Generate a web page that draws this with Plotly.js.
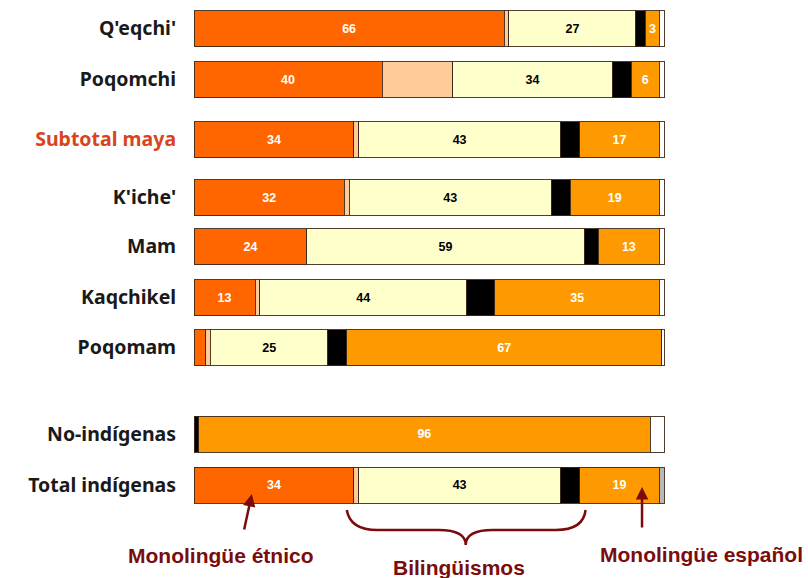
<!DOCTYPE html>
<html>
<head>
<meta charset="utf-8">
<script src="https://cdn.plot.ly/plotly-3.0.1.min.js"></script>
<style>
  html, body { margin: 0; padding: 0; background: #fff; }
  #plot { width: 808px; height: 578px; }
</style>
</head>
<body>
<div id="plot"></div>
<script>
// rows, top to bottom
const groups = ["Q'eqchi'", "Poqomchi", "Subtotal maya", "K'iche'", "Mam",
                "Kaqchikel", "Poqomam", "No-indígenas", "Total indígenas"];

// percentages per segment
const monoEtnico   = [66, 40, 34, 32, 24, 13, 2.5, 0, 34];
const bilEtnico    = [1, 15, 1, 1, 0, 1, 1, 0, 1];
const bilingue     = [27, 34, 43, 43, 59, 44, 25, 0, 43];
const bilEspanol   = [2, 4, 4, 4, 3, 6, 4, 1, 4];
const monoEspanol  = [3, 6, 17, 19, 13, 35, 67, 96, 17];
const sinDato      = [1, 1, 1, 1, 1, 1, 0.5, 3, 1];

// numbers printed inside the bars
const lblEtnico   = ["66", "40", "34", "32", "24", "13", "", "", "34"];
const lblBilingue = ["27", "34", "43", "43", "59", "44", "25", "", "43"];
const lblEspanol  = ["3", "6", "17", "19", "13", "35", "67", "96", "19"];

// layout: vertical centre of each row (px, axis runs 0..578 top-down)
const rowY = [28.5, 79.5, 139.5, 197.5, 246.5, 297.5, 347.5, 434, 485];

const edge = {color: "rgba(60,40,25,0.9)", width: 1};
const barFont = {family: "Liberation Sans Narrow, Liberation Sans, Arial", size: 12.5, weight: "bold"};

function seg(name, vals, color, labels, txtColor) {
    return {
        type: "bar",
        orientation: "h",
        name: name,
        x: vals,
        y: rowY,
        width: 36,
        marker: {color: color, line: edge},
        text: labels || vals.map(() => ""),
        textposition: "inside",
        insidetextanchor: "middle",
        textangle: 0,
        constraintext: "none",
        textfont: Object.assign({color: txtColor || "#000"}, barFont),
        hoverinfo: "skip"
    };
}

const lastColors = sinDato.map((v, i) => i === groups.length - 1 ? "#b8b8b8" : "#ffffff");

const traces = [
    seg("Monolingüe étnico", monoEtnico, "#ff6600", lblEtnico, "#ffffff"),
    seg("Bilingüe étnico", bilEtnico, "#ffcc99"),
    seg("Bilingüe", bilingue, "#ffffcc", lblBilingue, "#000000"),
    seg("Bilingüe español", bilEspanol, "#000000"),
    seg("Monolingüe español", monoEspanol, "#ff9900", lblEspanol, "#ffffff"),
    seg("Sin dato", sinDato, lastColors)
];

const dark = "#7a0c0c";
const noteFont = {family: "Liberation Sans Narrow, Liberation Sans, Arial", size: 21, color: dark, weight: "bold"};

const tickText = groups.map(g => g === "Subtotal maya"
    ? '<span style="color:#d9441c">' + g + '</span>' : g);

Plotly.newPlot("plot", traces, {
    width: 808,
    height: 578,
    barmode: "stack",
    showlegend: false,
    paper_bgcolor: "#ffffff",
    plot_bgcolor: "#ffffff",
    margin: {l: 194, r: 0, t: 0, b: 0},
    xaxis: {
        range: [0, 130.6],
        visible: false,
        fixedrange: true
    },
    yaxis: {
        range: [578, 0],
        tickvals: rowY,
        ticktext: tickText,
        ticks: "outside",
        ticklen: 13,
        tickcolor: "rgba(0,0,0,0)",
        showgrid: false,
        zeroline: false,
        showline: false,
        tickfont: {family: "Noto Sans, DejaVu Sans", size: 19.5, color: "#1a1a1a", weight: "bold"}
    },
    shapes: [
        {   // brace under the bilingual part
            type: "path",
            xref: "x", yref: "y",
            path: "M 32.5,510 Q 33.2,530 39,530 L 52,530 Q 57.8,530 57.8,545 " +
                  "Q 57.8,530 63.6,530 L 77,530 Q 82.8,530 83.3,510",
            line: {color: dark, width: 2.5}
        }
    ],
    annotations: [
        {x: 5.7, y: 555, xref: "x", yref: "y", text: "Monolingüe étnico",
         showarrow: false, font: noteFont},
        {x: 56.4, y: 567, xref: "x", yref: "y", text: "Bilingüismos",
         showarrow: false, font: noteFont},
        {x: 107.9, y: 554, xref: "x", yref: "y", text: "Monolingüe español",
         showarrow: false, font: noteFont},
        {x: 12.3, y: 494, xref: "x", yref: "y", axref: "x", ayref: "y",
         ax: 10.6, ay: 531, text: "", showarrow: true,
         arrowhead: 2, arrowsize: 1, arrowwidth: 2.5, arrowcolor: dark},
        {x: 95.3, y: 487, xref: "x", yref: "y", axref: "x", ayref: "y",
         ax: 95.3, ay: 529, text: "", showarrow: true,
         arrowhead: 2, arrowsize: 1, arrowwidth: 2.5, arrowcolor: dark}
    ]
}, {displayModeBar: false, staticPlot: true});
</script>
</body>
</html>
